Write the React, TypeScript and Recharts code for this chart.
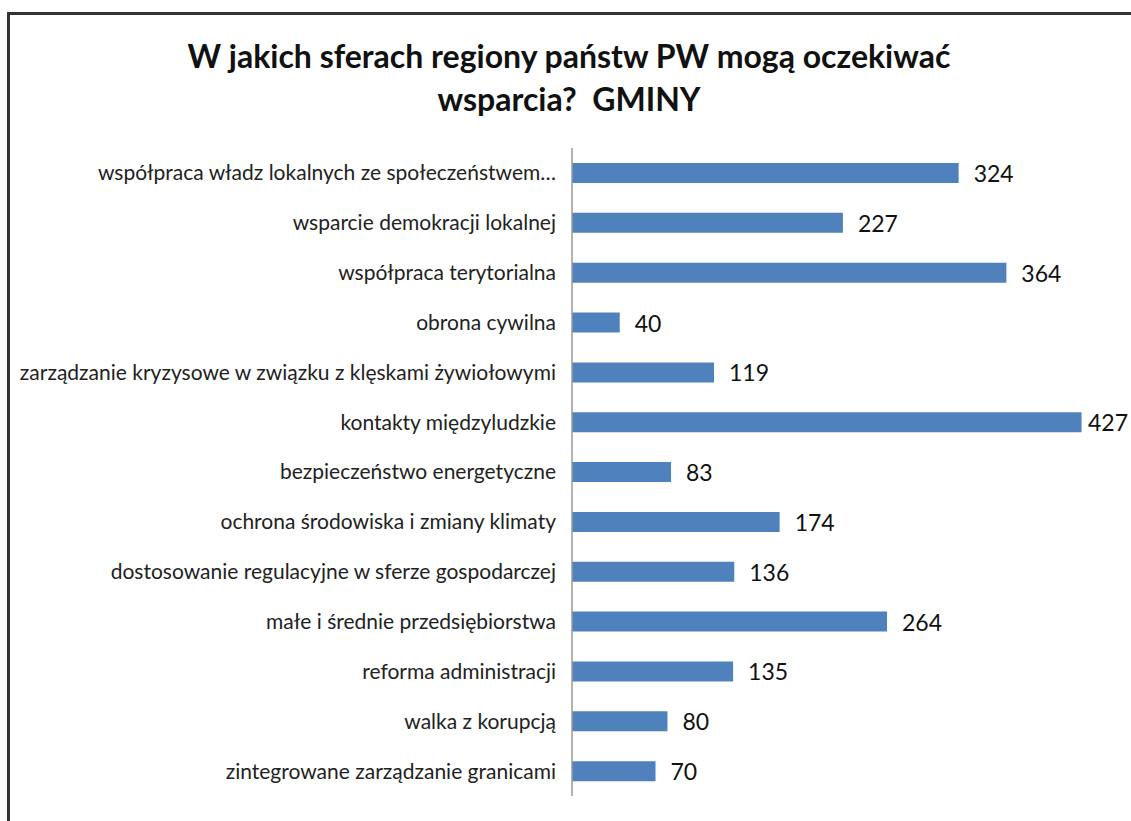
import { BarChart, Bar, XAxis, YAxis, LabelList } from 'recharts';

const categories = [
  'współpraca władz lokalnych ze społeczeństwem…',
  'wsparcie demokracji lokalnej',
  'współpraca terytorialna',
  'obrona cywilna',
  'zarządzanie kryzysowe w związku z klęskami żywiołowymi ',
  'kontakty międzyludzkie',
  'bezpieczeństwo energetyczne',
  'ochrona środowiska i zmiany klimaty',
  'dostosowanie regulacyjne w sferze gospodarczej',
  'małe i średnie przedsiębiorstwa',
  'reforma administracji',
  'walka z korupcją',
  'zintegrowane zarządzanie granicami',
];

const counts = [324, 227, 364, 40, 119, 427, 83, 174, 136, 264, 135, 80, 70];

const titleLines = ['W jakich sferach regiony państw PW mogą oczekiwać', 'wsparcia?  GMINY'];

const data = categories.map((name, i) => ({ name, value: counts[i] }));

const font = 'Lato, "Open Sans", sans-serif';

// value label; pulled in near the right edge like Excel does
const ValueLabel = (props: any) => {
  const { x, y, width, height, value } = props;
  const start = x + width + 15;
  const textW = String(value).length * 13;
  const fits = start + textW <= 1128;
  return (
    <text
      x={fits ? start : 1128}
      y={y + height / 2}
      textAnchor={fits ? 'start' : 'end'}
      dominantBaseline="central"
      fill="#111"
      fontSize={23}
      fontFamily={font}
    >
      {value}
    </text>
  );
};

export default function App() {
  return (
    <div
      style={{
        position: 'absolute',
        left: 0,
        top: 0,
        width: 1131,
        height: 821,
        overflow: 'hidden',
        background: '#fff',
        fontFamily: font,
      }}
    >
      {/* frame, only top and left edges show */}
      <div
        style={{
          position: 'absolute',
          left: 7,
          top: 12,
          width: 1300,
          height: 1000,
          border: '3px solid #333',
        }}
      />
      <div
        style={{
          position: 'absolute',
          left: 0,
          top: 34,
          width: 1138,
          textAlign: 'center',
          fontWeight: 700,
          fontSize: 32,
          lineHeight: '43px',
          color: '#111',
        }}
      >
        {titleLines.map((t) => (
          <div key={t} style={{ whiteSpace: 'pre' }}>
            {t}
          </div>
        ))}
      </div>
      <div style={{ position: 'absolute', left: 0, top: 0 }}>
        <BarChart
          width={1131}
          height={821}
          data={data}
          layout="vertical"
          margin={{ top: 148, right: 22, bottom: 25, left: 0 }}
        >
          <XAxis type="number" domain={[0, 450]} hide />
          <YAxis
            type="category"
            dataKey="name"
            width={572}
            tickLine={false}
            tickMargin={10}
            axisLine={{ stroke: '#9a9a9a', strokeWidth: 1.5 }}
            interval={0}
            tick={{ fill: '#222', fontSize: 21, fontFamily: font }}
          />
          <Bar dataKey="value" fill="#4f81bd" barSize={20} isAnimationActive={false}>
            <LabelList dataKey="value" content={ValueLabel} />
          </Bar>
        </BarChart>
      </div>
    </div>
  );
}
